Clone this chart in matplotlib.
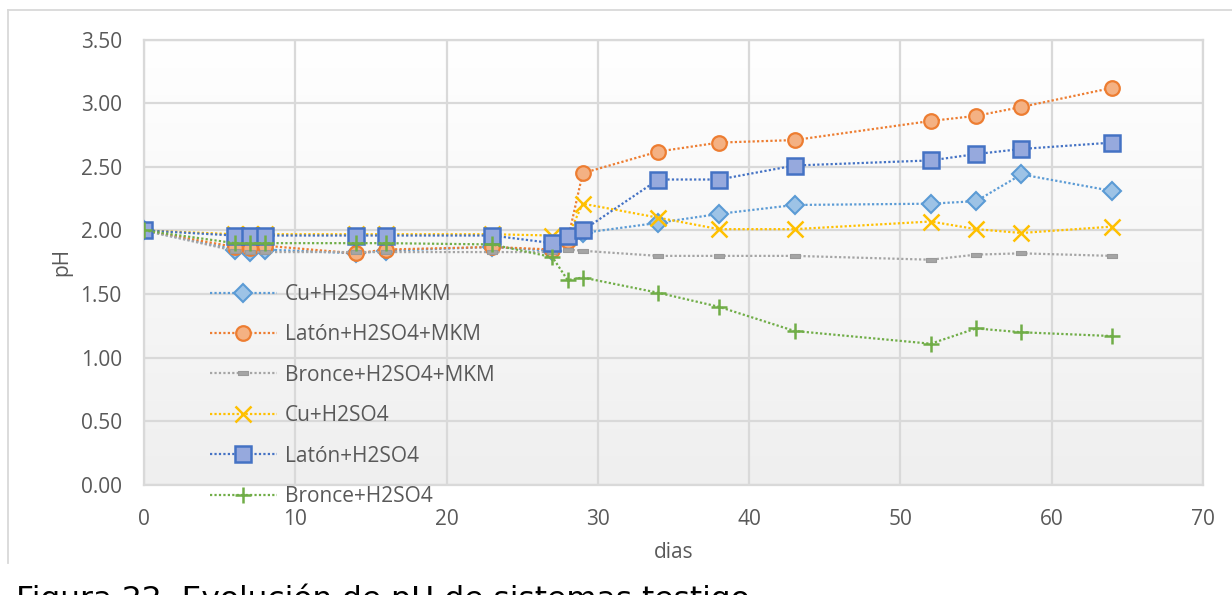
import numpy as np
import matplotlib
matplotlib.use("Agg")
import matplotlib.pyplot as plt
from matplotlib.lines import Line2D
from matplotlib.path import Path
from matplotlib.colors import LinearSegmentedColormap

# ---------------- data ----------------
days = [0, 6, 7, 8, 14, 16, 23, 27, 28, 29, 34, 38, 43, 52, 55, 58, 64]

cu_mkm     = [2.00, 1.85, 1.83, 1.85, 1.82, 1.84, 1.87, 1.84, 1.93, 1.98, 2.06, 2.13, 2.20, 2.21, 2.23, 2.44, 2.31]
laton_mkm  = [2.00, 1.87, 1.86, 1.88, 1.82, 1.85, 1.87, 1.85, 1.92, 2.45, 2.62, 2.69, 2.71, 2.86, 2.90, 2.97, 3.12]
bronce_mkm = [2.00, 1.84, 1.83, 1.83, 1.83, 1.83, 1.83, 1.83, 1.85, 1.84, 1.80, 1.80, 1.80, 1.77, 1.81, 1.82, 1.80]
cu         = [2.00, 1.97, 1.97, 1.97, 1.97, 1.97, 1.97, 1.96, 1.95, 2.21, 2.10, 2.01, 2.01, 2.07, 2.01, 1.98, 2.03]
laton      = [2.00, 1.96, 1.96, 1.96, 1.96, 1.96, 1.96, 1.90, 1.96, 2.00, 2.40, 2.40, 2.51, 2.55, 2.60, 2.64, 2.69]
bronce     = [2.00, 1.90, 1.90, 1.90, 1.90, 1.90, 1.89, 1.79, 1.61, 1.63, 1.51, 1.40, 1.21, 1.11, 1.23, 1.20, 1.17]

labels = ["Cu+H2SO4+MKM", "Latón+H2SO4+MKM", "Bronce+H2SO4+MKM",
          "Cu+H2SO4", "Latón+H2SO4", "Bronce+H2SO4"]

x_ticks = [0, 10, 20, 30, 40, 50, 60, 70]
y_ticks = [0.0, 0.5, 1.0, 1.5, 2.0, 2.5, 3.0, 3.5]

xlabel = "dias"
ylabel = "pH"
caption = "Figura 22. Evolución de pH de sistemas testigo"

# ---------------- figure ----------------
plt.rcParams['font.family'] = ['Open Sans', 'DejaVu Sans']
W, H = 1232, 595
fig = plt.figure(figsize=(W / 100, H / 100), dpi=100)
fig.patch.set_facecolor('white')

ax = fig.add_axes([144 / W, 1 - 485 / H, (1203 - 144) / W, (485 - 39.5) / H])
ax.set_xlim(0, 70)
ax.set_ylim(0, 3.5)

# gradient background of plot area: white at top, light gray at bottom
grad = np.linspace(0.0, 1.0, 256).reshape(-1, 1)
ax.imshow(grad, extent=[0, 70, 0, 3.5], aspect='auto', origin='upper',
          cmap=LinearSegmentedColormap.from_list('g', ['#ffffff', '#efefef']),
          zorder=0, interpolation='bicubic')

grid_c = '#d9d9d9'
ax.grid(True, color=grid_c, linewidth=1.6, zorder=1)
ax.set_axisbelow(True)
for s in ax.spines.values():
    s.set_color(grid_c)
    s.set_linewidth(1.6)

ax.set_xticks(x_ticks)
ax.set_yticks(y_ticks)
ax.set_yticklabels([f"{v:.2f}" for v in y_ticks])
ax.tick_params(axis='both', length=0, labelsize=15, labelcolor='#595959')
ax.tick_params(axis='y', pad=16)
ax.tick_params(axis='x', pad=17)

ax.set_xlabel(xlabel, fontsize=15, color='#595959', va='center')
ax.xaxis.set_label_coords(0.5, (485 - 553) / 445.5)
ax.set_ylabel(ylabel, fontsize=15, color='#595959', va='center')
ax.yaxis.set_label_coords((62 - 144) / 1059, 0.5)

dash_marker = Path([(-1, -0.45), (1, -0.45), (1, 0.45), (-1, 0.45), (-1, -0.45)],
                   [Path.MOVETO, Path.LINETO, Path.LINETO, Path.LINETO, Path.CLOSEPOLY])

ls = (0, (1, 1))
lw = 1.6
series = [
    (cu_mkm, dict(color='#5B9BD5', marker='D', markersize=9, markerfacecolor='#9DC3E6',
                  markeredgecolor='#5B9BD5', markeredgewidth=1.5)),
    (laton_mkm, dict(color='#ED7D31', marker='o', markersize=10.5, markerfacecolor='#F4B183',
                     markeredgecolor='#ED7D31', markeredgewidth=1.6)),
    (bronce_mkm, dict(color='#A5A5A5', marker=dash_marker, markersize=7, markerfacecolor='#A5A5A5',
                      markeredgecolor='#9a9a9a', markeredgewidth=0.8)),
    (cu, dict(color='#FFC000', marker='x', markersize=11, markeredgewidth=1.8,
              markeredgecolor='#FFC000')),
    (laton, dict(color='#4472C4', marker='s', markersize=11, markerfacecolor='#96A9DD',
                 markeredgecolor='#4472C4', markeredgewidth=1.8)),
    (bronce, dict(color='#70AD47', marker='+', markersize=12, markeredgewidth=1.8,
                  markeredgecolor='#70AD47')),
]

for i, ((vals, kw), lab) in enumerate(zip(series, labels)):
    ax.plot(days, vals, linestyle=ls, linewidth=lw, label=lab, zorder=3 + i, **kw)

leg = fig.legend(loc='upper left', bbox_to_anchor=(210 / W, 1 - 284 / H),
                 frameon=False, fontsize=15, labelcolor='#595959',
                 handlelength=3.2, handletextpad=0.4, labelspacing=0.93,
                 borderpad=0, borderaxespad=0)
leg.set_zorder(20)

# outer chart frame (left and top edges visible)
fig.add_artist(Line2D([8 / W, 8 / W], [1 - 563 / H, 1 - 10 / H], color=grid_c, linewidth=1.3))
fig.add_artist(Line2D([8 / W, 1.0], [1 - 10 / H, 1 - 10 / H], color=grid_c, linewidth=1.3))

fig.text(16 / W, 1 - 608 / H, caption, fontsize=22.5, family='DejaVu Sans',
         color='black', va='baseline', ha='left')

fig.savefig("out.png", dpi=100)
